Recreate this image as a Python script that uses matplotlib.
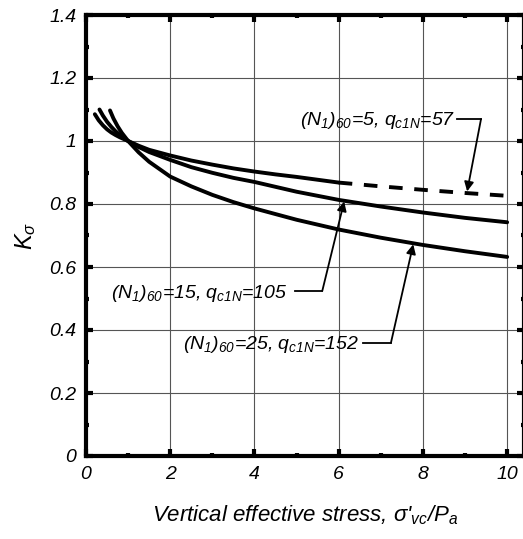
import matplotlib
matplotlib.use("Agg")
import matplotlib.pyplot as plt
from matplotlib.ticker import MultipleLocator, FuncFormatter

plt.rcParams['font.family'] = ['Liberation Sans', 'DejaVu Sans']
plt.rcParams['mathtext.fontset'] = 'custom'
plt.rcParams['mathtext.rm'] = 'Liberation Sans:italic'
plt.rcParams['mathtext.it'] = 'Liberation Sans:italic'

# K_sigma curves
x_n5 = [0.21, 0.3, 0.4, 0.5, 0.6, 0.7, 0.8, 1.0, 1.25, 1.5, 2, 2.5, 3, 3.5, 4, 4.5, 5, 5.5, 6]
k_n5 = [1.085, 1.066, 1.050, 1.037, 1.027, 1.019, 1.012, 1.0, 0.985, 0.972, 0.954, 0.938,
        0.925, 0.913, 0.903, 0.894, 0.886, 0.877, 0.868]
x_n5_dash = [6, 7, 8, 9, 10]
k_n5_dash = [0.868, 0.856, 0.845, 0.835, 0.826]

x_n15 = [0.32, 0.4, 0.5, 0.6, 0.7, 0.8, 1.0, 1.25, 1.5, 2, 2.5, 3, 3.5, 4, 5, 6, 7, 8, 9, 10]
k_n15 = [1.100, 1.081, 1.061, 1.045, 1.031, 1.020, 1.0, 0.981, 0.965, 0.940, 0.917, 0.899,
         0.883, 0.870, 0.839, 0.813, 0.792, 0.773, 0.756, 0.742]

x_n25 = [0.57, 0.65, 0.75, 0.85, 1.0, 1.25, 1.5, 2, 2.5, 3, 3.5, 4, 5, 6, 7, 8, 9, 10]
k_n25 = [1.097, 1.072, 1.047, 1.026, 1.0, 0.964, 0.934, 0.887, 0.856, 0.829, 0.806, 0.786,
         0.750, 0.719, 0.693, 0.670, 0.650, 0.632]

labels = [r"$(N_1)_{60}$=5, $q_{c1N}$=57",
          r"$(N_1)_{60}$=15, $q_{c1N}$=105",
          r"$(N_1)_{60}$=25, $q_{c1N}$=152"]

fig = plt.figure(figsize=(5.23, 5.39), dpi=100)
ax = fig.add_axes([86 / 523, 83 / 539, 438 / 523, 441 / 539])

ax.plot(x_n5, k_n5, color='k', lw=2.8, solid_capstyle='round')
ax.plot(x_n5_dash, k_n5_dash, color='k', lw=2.8, dashes=(3.5, 3))
ax.plot(x_n15, k_n15, color='k', lw=2.8, solid_capstyle='round')
ax.plot(x_n25, k_n25, color='k', lw=2.8, solid_capstyle='round')

# labels with leader lines and arrows
txt = dict(fontsize=14, style='italic', va='baseline', ha='left')
arrow = dict(arrowstyle='-|>', color='k', lw=1.3, mutation_scale=14, shrinkA=0, shrinkB=0)
ax.text(5.08, 1.051, labels[0], **txt)
ax.plot([8.81, 9.38], [1.070, 1.070], color='k', lw=1.3)
ax.annotate('', xy=(9.05, 0.840), xytext=(9.38, 1.070), arrowprops=arrow)
ax.text(0.59, 0.502, labels[1], **txt)
ax.plot([4.96, 5.61], [0.524, 0.524], color='k', lw=1.3)
ax.annotate('', xy=(6.13, 0.808), xytext=(5.61, 0.524), arrowprops=arrow)
ax.text(2.30, 0.340, labels[2], **txt)
ax.plot([6.58, 7.24], [0.359, 0.359], color='k', lw=1.3)
ax.annotate('', xy=(7.77, 0.672), xytext=(7.24, 0.359), arrowprops=arrow)

ax.set_xlim(0, 10.4)
ax.set_ylim(0, 1.4)
ax.xaxis.set_major_locator(MultipleLocator(2))
ax.xaxis.set_minor_locator(MultipleLocator(1))
ax.yaxis.set_major_locator(MultipleLocator(0.2))
ax.yaxis.set_minor_locator(MultipleLocator(0.1))
fmt = FuncFormatter(lambda v, p: '%g' % round(v, 2))
ax.xaxis.set_major_formatter(fmt)
ax.yaxis.set_major_formatter(fmt)
ax.grid(True, which='major', color='#555555', lw=0.8)
ax.set_axisbelow(True)

for s in ax.spines.values():
    s.set_linewidth(3)
ax.tick_params(which='major', direction='in', length=5, width=3, top=True, right=True,
               labelsize=14, pad=7)
ax.tick_params(which='minor', direction='in', length=2.5, width=3, top=True, right=True)
for lab in ax.get_xticklabels() + ax.get_yticklabels():
    lab.set_style('italic')

ax.set_xlabel(r"Vertical effective stress, σ'$_{vc}$/$P_a$", fontsize=16, style='italic',
              labelpad=15)
ax.set_ylabel(r"$K_\sigma$", fontsize=17, labelpad=8)

fig.savefig("out.png", dpi=100)
